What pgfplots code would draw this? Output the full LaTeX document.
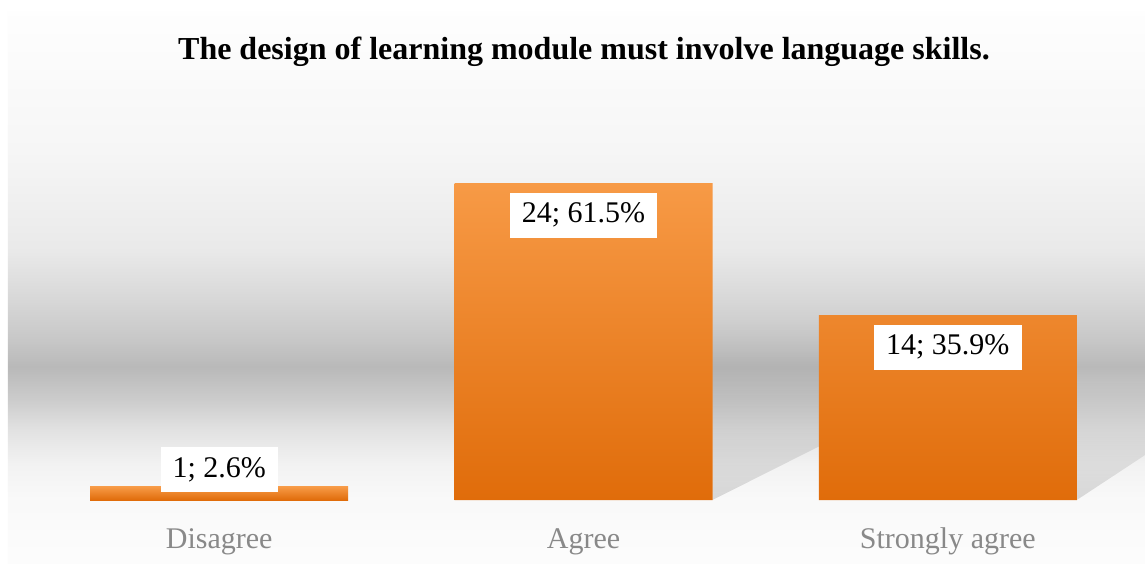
\documentclass[border=0pt]{standalone}
\usepackage{fontspec}
\setmainfont{Liberation Serif}
\usepackage{pgfplots}
\pgfplotsset{compat=1.18}
\usetikzlibrary{fadings}

\pgfdeclareverticalshading{chartbg}{100bp}{%
gray(0bp)=(0.99); gray(25bp)=(0.99); gray(31bp)=(0.975); gray(34bp)=(0.95); gray(37.1bp)=(0.885);
gray(39.8bp)=(0.80); gray(42.8bp)=(0.725); gray(45.2bp)=(0.78); gray(48.9bp)=(0.845);
gray(53.4bp)=(0.915); gray(62.5bp)=(0.965); gray(75bp)=(0.995); gray(100bp)=(0.995)}

\definecolor{bartop}{RGB}{247,154,70}
\definecolor{barmid}{RGB}{243,143,54}
\definecolor{barbot}{RGB}{224,108,10}
\definecolor{ticktext}{RGB}{137,137,137}

\begin{document}
\begin{tikzpicture}
\fill[white] (-18.5pt,-34pt) rectangle (554pt,250pt);
\shade[shading=chartbg] (-14.5pt,-31.5pt) rectangle (554pt,244pt);
\node[font=\bfseries\fontsize{16}{19}\selectfont] at (273.5pt,224pt)
  {The design of learning module must involve language skills.};
\begin{axis}[
  scale only axis,
  width=546.5pt, height=184.8pt,
  xmin=-0.5, xmax=2.5, ymin=0, ymax=28,
  axis line style={draw=none},
  ytick=\empty,
  xtick={0,1,2},
  xticklabels={Disagree, Agree, Strongly agree},
  major tick length=0pt,
  xticklabel style={font=\fontsize{15}{18}\selectfont, text=ticktext, anchor=base, yshift=-24pt},
  ybar, bar width=129pt, bar shift=0pt,
  clip=false,
  point meta=explicit symbolic,
  nodes near coords={\pgfmathprintnumber[assume math mode=true]{\pgfkeysvalueof{/data point/y}}; \pgfplotspointmeta\%},
  every node near coord/.append style={font=\fontsize{15}{18}\selectfont, text=black,
     fill=white, inner xsep=6pt, inner ysep=4pt, text height=11pt, text depth=3.5pt,
     anchor=north},
  barstyle/.style={draw=none, top color=bartop, middle color=barmid, bottom color=barbot},
]
% soft perspective shadows behind the bars
\fill[black, opacity=0.13, path fading=north]
  (axis cs:1.354,0) -- (axis cs:1.786,6.0) -- (axis cs:1.786,13.5) -- (axis cs:1.354,13.5) -- cycle;
\fill[black, opacity=0.13, path fading=north]
  (axis cs:2.354,0) -- (axis cs:2.541,3.4) -- (axis cs:2.541,9) -- (axis cs:2.354,9) -- cycle;
\addplot[barstyle, every node near coord/.append style={yshift=20pt}]
  coordinates {(0,1) [2.6]};
\addplot[barstyle, every node near coord/.append style={yshift=-4.5pt}]
  coordinates {(1,24) [61.5] (2,14) [35.9]};
\end{axis}
\pgfresetboundingbox
\path (-18.5pt,-34pt) rectangle (554pt,250pt);
\end{tikzpicture}
\end{document}
